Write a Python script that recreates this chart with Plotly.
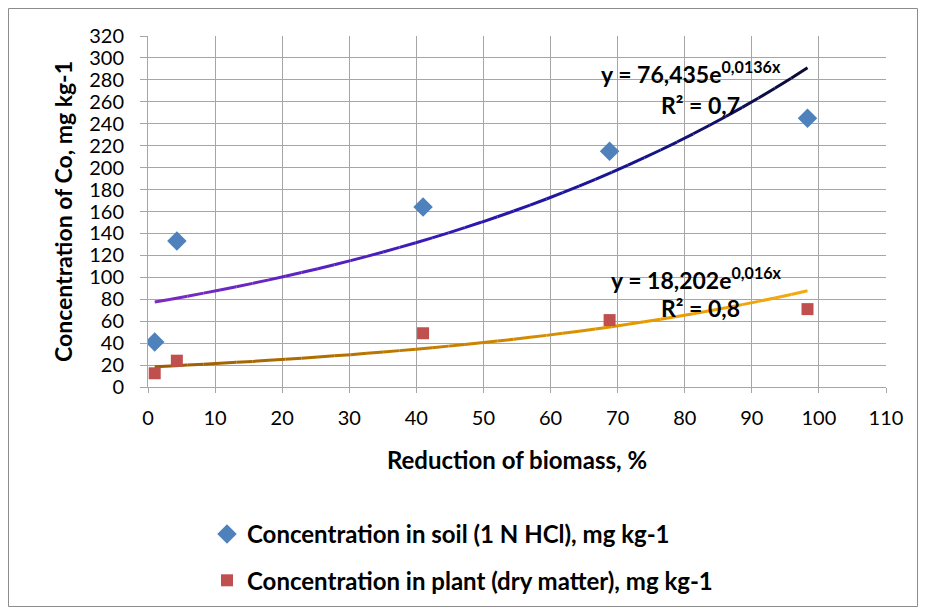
import numpy as np
import plotly.graph_objects as go

# Data
biomass_reduction = [1.0, 4.3, 41.0, 68.8, 98.3]
soil_conc = [41, 133, 164, 215, 245]
plant_conc = [12.5, 24, 49, 61, 71]

soil_name = "Concentration in soil (1 N HCl), mg kg-1"
plant_name = "Concentration in plant (dry matter), mg kg-1"

# exponential trendline coefficients (as printed on the chart)
soil_a, soil_b = 76.435, 0.0136
plant_a, plant_b = 18.202, 0.016

soil_eq = "y = 76,435e<sup>0,0136x</sup>"
soil_r2 = "R² = 0,7"
plant_eq = "y = 18,202e<sup>0,016x</sup>"
plant_r2 = "R² = 0,8"

soil_grad = ["#7B2CC0", "#5A22C0", "#2A18B0", "#14148C", "#0A0A30"]
plant_grad = ["#9A5C06", "#B06E00", "#CC8400", "#E69A00", "#F5AA10"]

FONT = "Lato, Carlito, Calibri, sans-serif"

def hex2rgb(h):
    h = h.lstrip("#")
    return np.array([int(h[i:i + 2], 16) for i in (0, 2, 4)], dtype=float)

def interp_color(stops, t):
    n = len(stops) - 1
    pos = t * n
    i = min(int(pos), n - 1)
    f = pos - i
    c = hex2rgb(stops[i]) * (1 - f) + hex2rgb(stops[i + 1]) * f
    return "rgb(%d,%d,%d)" % tuple(c.round().astype(int))

fig = go.Figure()

def add_trend(a, b, stops):
    x0, x1 = min(biomass_reduction), max(biomass_reduction)
    nseg = 40
    edges = np.linspace(x0, x1, nseg + 1)
    for k in range(nseg):
        xs = np.linspace(edges[k], edges[k + 1], 4)
        ys = a * np.exp(b * xs)
        fig.add_trace(go.Scatter(
            x=xs, y=ys, mode="lines", showlegend=False, hoverinfo="skip",
            line=dict(color=interp_color(stops, (k + 0.5) / nseg), width=3)))

add_trend(soil_a, soil_b, soil_grad)
add_trend(plant_a, plant_b, plant_grad)

fig.add_trace(go.Scatter(
    x=biomass_reduction, y=soil_conc, mode="markers", name=soil_name,
    legendgroup="soil",
    marker=dict(symbol="diamond", size=15, color="#4F81BD")))
fig.add_trace(go.Scatter(
    x=biomass_reduction, y=plant_conc, mode="markers", name=plant_name,
    legendgroup="plant",
    marker=dict(symbol="square", size=12, color="#C0504D")))

ann_font = dict(family=FONT, size=23, color="black", weight="bold")
fig.add_annotation(x=80.9, y=287, text=soil_eq, showarrow=False, font=ann_font)
fig.add_annotation(x=82.4, y=257, text=soil_r2, showarrow=False, font=ann_font)
fig.add_annotation(x=81.8, y=98.5, text=plant_eq, showarrow=False, font=ann_font)
fig.add_annotation(x=82.3, y=72, text=plant_r2, showarrow=False, font=ann_font)

# page body has an 8px margin, so figure coordinates = screen - 8
W, H = 910, 599
L, R, T, B = 140, 32, 28, 220
pw, ph = W - L - R, H - T - B

def px2paper_x(px):
    return (px - L) / pw

def px2paper_y(py):
    return (H - B - py) / ph

fig.add_shape(type="rect", xref="paper", yref="paper",
              x0=px2paper_x(0.5), x1=px2paper_x(W - 0.5),
              y0=px2paper_y(H - 0.5), y1=px2paper_y(0.5),
              line=dict(color="#8C8C8C", width=1), layer="below")

grid = "#A6A6A6"
fig.update_xaxes(range=[0, 110], dtick=10, tick0=0, showgrid=True, gridcolor=grid,
                 gridwidth=1, zeroline=False, showline=True, linecolor=grid,
                 ticks="outside", ticklen=5, tickcolor=grid, ticklabelstandoff=8,
                 tickfont=dict(family=FONT, size=20, color="black"),
                 title=dict(text="Reduction of biomass, %", standoff=24,
                            font=dict(family=FONT, size=24, color="black", weight="bold")))
fig.update_yaxes(range=[0, 320], dtick=20, tick0=0, showgrid=True, gridcolor=grid,
                 gridwidth=1, zeroline=False, showline=True, linecolor=grid,
                 ticks="outside", ticklen=7, tickcolor=grid, ticklabelstandoff=12,
                 tickfont=dict(family=FONT, size=20, color="black"),
                 title=dict(text="Concentration of Co, mg kg-1", standoff=10,
                            font=dict(family=FONT, size=23, color="black", weight="bold")))

fig.update_layout(
    width=W, height=H,
    margin=dict(l=L, r=R, t=T, b=B, autoexpand=False),
    paper_bgcolor="white", plot_bgcolor="white",
    showlegend=True,
    legend=dict(x=px2paper_x(199), y=px2paper_y(504), xanchor="left", yanchor="top",
                orientation="v", tracegroupgap=12, itemwidth=30,
                font=dict(family=FONT, size=24, color="black", weight="bold"),
                bgcolor="rgba(0,0,0,0)"),
)

fig.write_html("out.html")
